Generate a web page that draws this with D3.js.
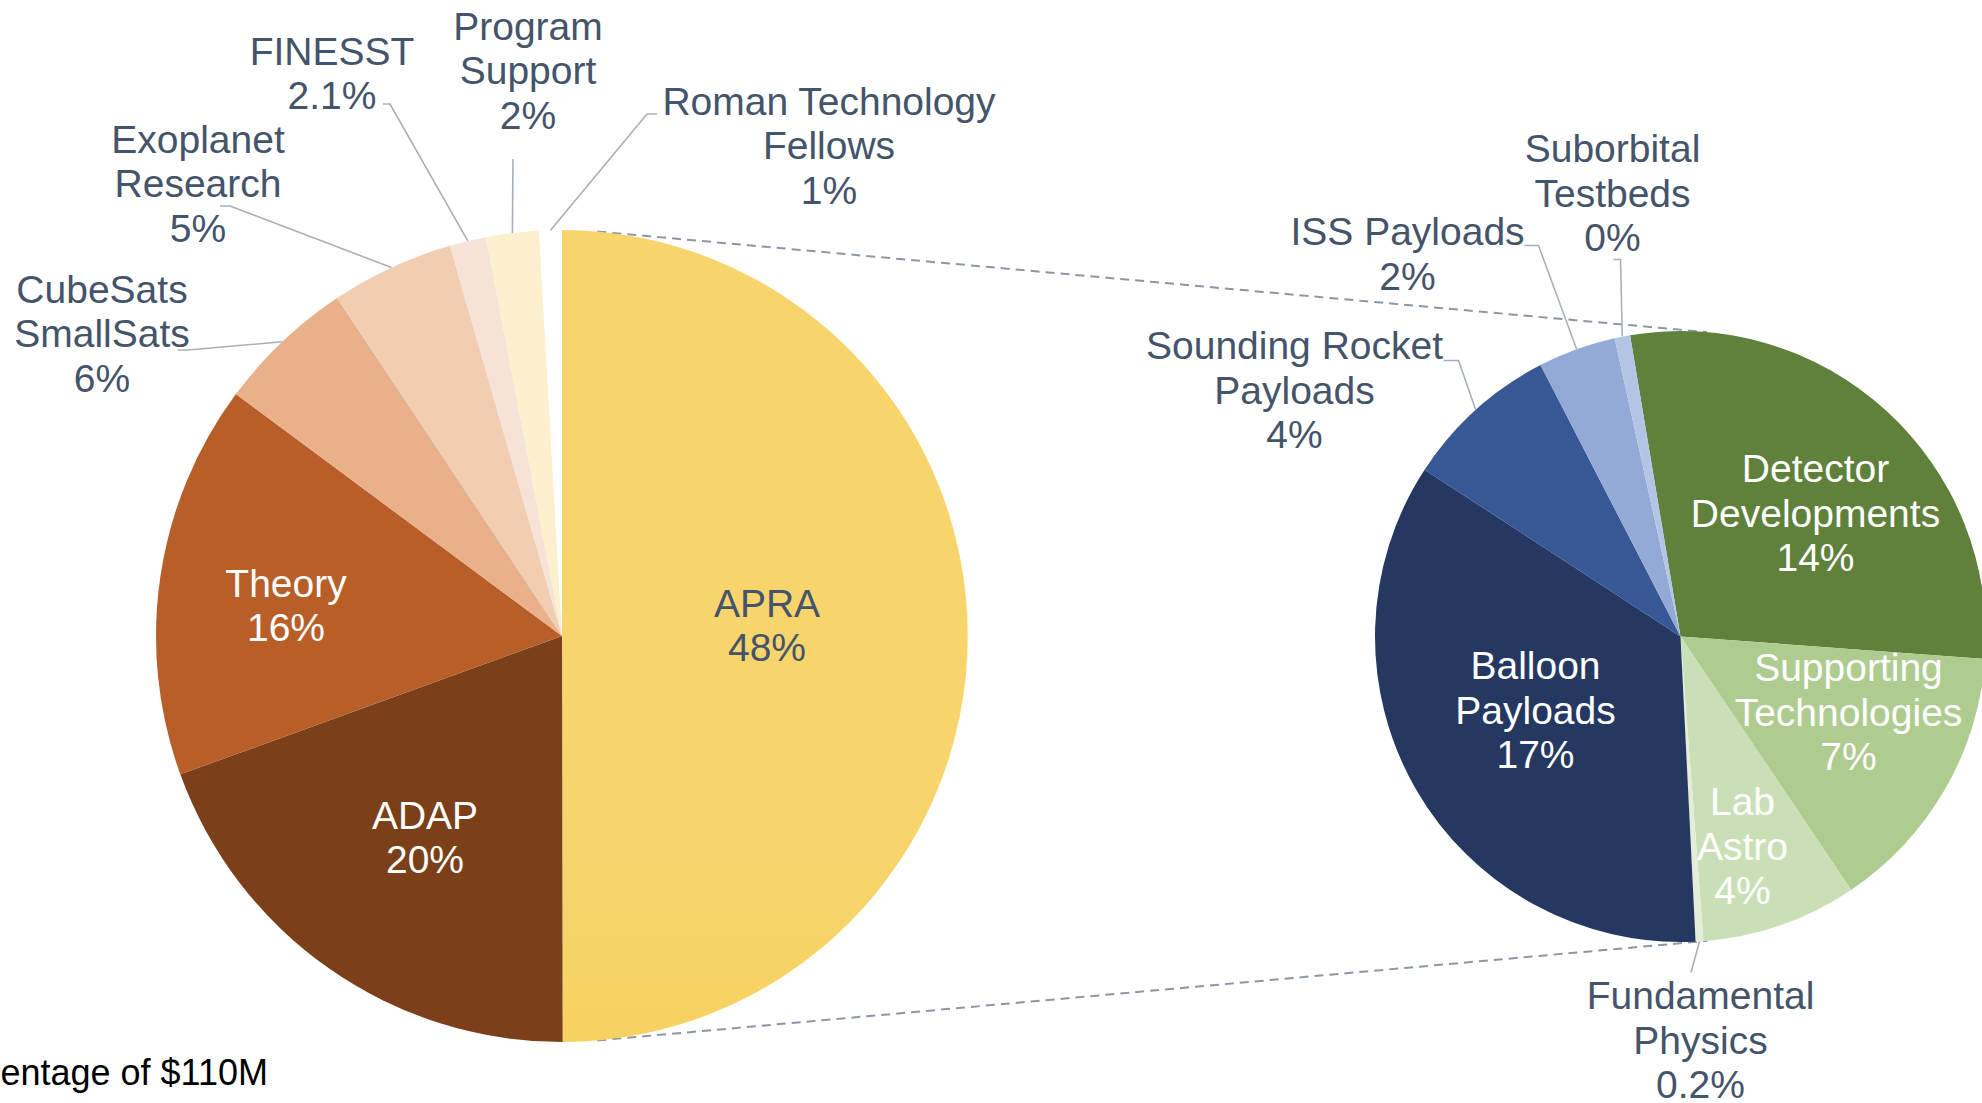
<!DOCTYPE html>
<html>
<head>
<meta charset="utf-8">
<script src="https://cdn.jsdelivr.net/npm/d3@7"></script>
<style>
  body { margin: 0; background: #fff; }
  svg { display: block; }
  text { font-family: "Liberation Sans", Arial, Helvetica, sans-serif; }
</style>
</head>
<body>
<div class="pie-of-pie"></div>
<script>
// main pie: share of $110M (slice sizes as drawn)
var mainCategories = ["APRA", "ADAP", "Theory", "CubeSats\nSmallSats", "Exoplanet\nResearch",
  "FINESST", "Program\nSupport", "Roman Technology\nFellows"];
var mainValues = [50, 19.5, 15.7, 5.5, 4.9, 1.45, 2.1, 0.9];
var mainPctLabels = ["48%", "20%", "16%", "6%", "5%", "2.1%", "2%", "1%"];

// secondary pie: breakdown of APRA
var subCategories = ["Detector\nDevelopments", "Supporting\nTechnologies", "Lab\nAstro",
  "Fundamental\nPhysics", "Balloon\nPayloads", "Sounding Rocket\nPayloads", "ISS Payloads",
  "Suborbital\nTestbeds"];
var subValues = [14, 7, 4, 0.2, 17, 4, 2, 0.4];
var subPctLabels = ["14%", "7%", "4%", "0.2%", "17%", "4%", "2%", "0%"];

var mainColors = ["url(#apraFill)", "#7b3f19", "#b85e28", "#e9b189", "#f1cdb2", "#f6e2d6", "#fdf0ce", "#ffffff"];
var subColors = ["#5f813c", "#aecc8f", "#cbdfb7", "#e3edd8", "#253861", "#385795", "#93a9d6", "#b4c4e4"];

// label layout, offsets from the pie centre: [labelX, labelY, leaderStartX, leaderStartY, elbow, kind]
var mainLayout = [
  [205, -11, 0, 0, 0, "dark"],
  [-137, 201, 0, 0, 0, "white"],
  [-276, -31, 0, 0, 0, "white"],
  [-460, -303, -384, -286, 10, "out"],
  [-364, -453, -342, -430, 10, "out"],
  [-230, -563, -179, -532, 7, "out"],
  [-34, -566, -49, -477, 0, "out"],
  [267, -491, 95, -522, -10, "out"]
];
var subLayout = [
  [135, -124, 0, 0, 0, "white"],
  [168, 75, 0, 0, 0, "white"],
  [62, 209, 0, 0, 0, "white"],
  [20, 403, 10.5, 336, 0, "out"],
  [-145, 73, 0, 0, 0, "white"],
  [-386, -247, -237, -276, 15, "out"],
  [-273, -383, -156, -391, 14, "out"],
  [-68, -444, -67, -377, 7, "out"]
];

var width = 1982, height = 1103;
var mainC = [562, 636], mainR = 406;
var subC = [1680.5, 636.5], subR = 305.5;
var rad = Math.PI / 180;
var fontSize = 39, lineH = 44.5;

var svg = d3.select(".pie-of-pie")
  .append("svg")
  .attr("width", width)
  .attr("height", height);

var grad = svg.append("defs").append("linearGradient")
  .attr("id", "apraFill")
  .attr("gradientUnits", "userSpaceOnUse")
  .attr("x1", 0).attr("x2", 0)
  .attr("y1", mainC[1] - mainR).attr("y2", mainC[1] + mainR);
grad.append("stop").attr("offset", 0).attr("stop-color", "#f8d56c");
grad.append("stop").attr("offset", 0.5).attr("stop-color", "#f4ce52");
grad.append("stop").attr("offset", 1).attr("stop-color", "#deba45");

function onArc(c, r, deg) {
  return [c[0] + r * Math.sin(deg * rad), c[1] - r * Math.cos(deg * rad)];
}

// dashed connectors between the APRA slice and the secondary pie
var connectors = [[5, 5], [175, 175]];
svg.append("g")
  .selectAll("line")
  .data(connectors)
  .enter()
  .append("line")
  .attr("x1", (d) => onArc(mainC, mainR, d[0])[0])
  .attr("y1", (d) => onArc(mainC, mainR, d[0])[1])
  .attr("x2", (d) => onArc(subC, subR, d[1])[0])
  .attr("y2", (d) => onArc(subC, subR, d[1])[1])
  .attr("stroke", "#8d96a5")
  .attr("stroke-width", 2)
  .attr("stroke-dasharray", "9,6");

function drawPie(values, colors, names, pcts, layout, center, r, start) {
  var pie = d3.pie()
    .sort(null)
    .value((d) => d)
    .startAngle(start * rad)
    .endAngle(start * rad + 2 * Math.PI);
  var arcs = pie(values);
  var arc = d3.arc().innerRadius(0).outerRadius(r);

  var g = svg.append("g")
    .attr("transform", "translate(" + center[0] + "," + center[1] + ")");

  g.append("g")
    .selectAll("path")
    .data(arcs)
    .enter()
    .append("path")
    .attr("d", arc)
    .attr("fill", (d, i) => colors[i]);

  // leader lines go from the label to the middle of the slice's rim
  g.append("g")
    .selectAll("polyline")
    .data(arcs.filter((d, i) => layout[i][5] == "out"))
    .enter()
    .append("polyline")
    .attr("fill", "none")
    .attr("stroke", "#a9afb9")
    .attr("stroke-width", 1.6)
    .attr("points", (d) => {
      var L = layout[d.index];
      var mid = (d.startAngle + d.endAngle) / 2;
      var end = [r * Math.sin(mid), -r * Math.cos(mid)];
      return [[L[2], L[3]], [L[2] + L[4], L[3]], end].map((p) => p.join(",")).join(" ");
    });

  var labels = g.append("g")
    .selectAll("text")
    .data(arcs)
    .enter()
    .append("text")
    .attr("text-anchor", "middle")
    .attr("font-size", fontSize)
    .attr("fill", (d, i) => layout[i][5] == "white" ? "#ffffff" : "#44546a");

  labels.each(function (d, i) {
    var lines = names[i].split("\n").concat([pcts[i]]);
    var top = layout[i][1] - (lines.length - 1) * lineH / 2;
    d3.select(this)
      .selectAll("tspan")
      .data(lines)
      .enter()
      .append("tspan")
      .attr("x", layout[i][0])
      .attr("y", (t, k) => top + k * lineH)
      .attr("dy", "0.36em")
      .text((t) => t);
  });
}

drawPie(mainValues, mainColors, mainCategories, mainPctLabels, mainLayout, mainC, mainR, 0);
drawPie(subValues, subColors, subCategories, subPctLabels, subLayout, subC, subR, -9.5);

svg.append("text")
  .attr("x", 268)
  .attr("y", 1085)
  .attr("text-anchor", "end")
  .attr("font-size", 36)
  .attr("fill", "#000")
  .text("Percentage of $110M");
</script>
</body>
</html>
